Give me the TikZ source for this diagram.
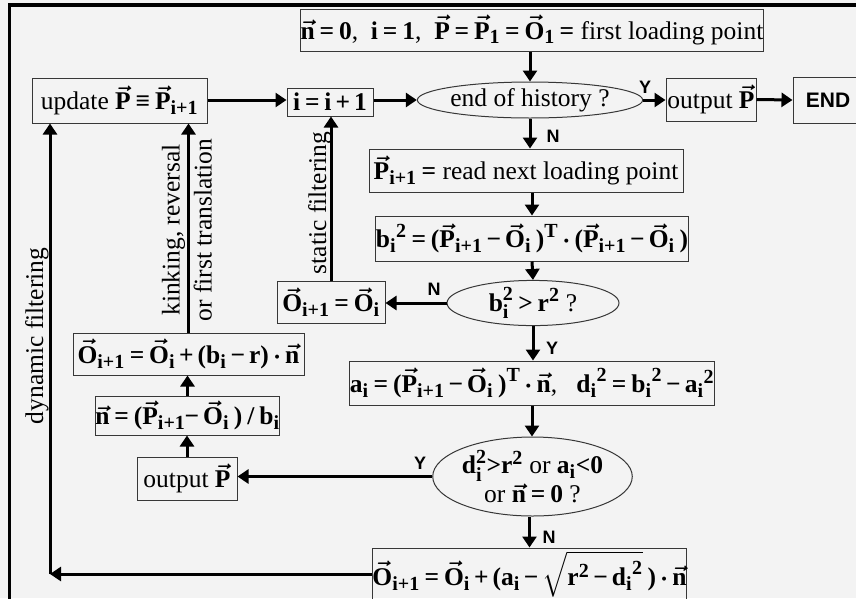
\RequirePackage{fix-cm}
\documentclass[tikz,border=0pt]{standalone}
\usepackage{amsmath}
\usepackage{fontspec}
\setmainfont{Liberation Serif}
\newfontfamily\arialfont{Liberation Sans}
\usepackage{tikz}
\usepackage{xcolor}
\usetikzlibrary{arrows.meta,shapes.geometric}
\definecolor{bggray}{RGB}{243,243,243}
\definecolor{boxgray}{RGB}{55,55,55}
\newcommand{\bs}[1]{\text{\bfseries #1}}
\newcommand{\bv}[1]{\vec{\bs{#1}}}
\newcommand{\sbs}[1]{_{\mbox{\fontsize{20}{20}\selectfont\bfseries #1}}}
\newcommand{\sps}[1]{^{\mbox{\fontsize{20}{20}\selectfont\bfseries #1}}}
\newcommand{\Eq}{\mathrel{\bs{=}}}
\newcommand{\Mi}{\mathbin{\bs{−}}}
\newcommand{\Pl}{\mathbin{\bs{+}}}
\newcommand{\Lp}{\bs{(}}
\newcommand{\Rp}{\bs{)}}
\newcommand{\tightmath}{\thickmuskip=3mu\medmuskip=2.5mu}

\begin{document}
\begin{tikzpicture}[x=1pt, y=-1pt, >={Triangle[length=11pt,width=14pt]},
    box/.style={draw=boxgray, line width=1pt, inner sep=0pt, font=\fontsize{25.5}{30}\selectfont\boldmath\tightmath},
    cond/.style={ellipse, draw=boxgray, line width=1pt, inner sep=0pt, align=center, font=\fontsize{25.5}{29}\selectfont\boldmath\tightmath},
    flow/.style={->, line width=3pt},
    yn/.style={font=\arialfont\bfseries\fontsize{18}{20}\selectfont},
    lbl/.style={rotate=90, align=center, font=\fontsize{25.5}{32}\selectfont}]
    \clip (0,0) rectangle (856,598);
    \fill[bggray] (0,0) rectangle (856,598);
    \draw[line width=3.5pt] (9.5,620) -- (9.5,5) -- (880,5);
    % main column
    \node[box, minimum width=463, minimum height=42] (init) at (532,30)
        {$\bv{n}\Eq\bs{0}$,\ \ $\bs{i}\Eq\bs{1}$,\ \ $\bv{P}\Eq\bv{P}\sbs{1}\Eq\bv{O}\sbs{1}\Eq$ first loading point};
    \node[cond, minimum width=190, minimum height=36] (hist) at (530,100) {end of history ?};
    \node[box, minimum width=90, minimum height=43] (outa) at (711,99.5) {output $\bv{P}$};
    \node[box, minimum width=70, minimum height=46, font=\arialfont\bfseries\fontsize{21}{24}\selectfont] (end) at (828,100) {END};
    \node[box, minimum width=314, minimum height=43] (read) at (526,170.5)
        {$\bv{P}\sbs{i+1}\Eq$ read next loading point};
    \node[box, minimum width=310, minimum height=45] (bsq) at (532,238.5)
        {${\bs{b}\sbs{i}}\sps{2}\Eq\Lp\bv{P}\sbs{i+1}\Mi\bv{O}\sbs{i}\,\Rp\sps{T}\cdot\Lp\bv{P}\sbs{i+1}\Mi\bv{O}\sbs{i}\,\Rp$};
    \node[cond, minimum width=172, minimum height=38] (bcmp) at (533,303)
        {$\bs{b}\sbs{i}\sps{2}\mathrel{\bs{>}}\bs{r}\sps{2}$ ?};
    \node[box, minimum width=358, minimum height=44] (adist) at (532,383)
        {$\bs{a}\sbs{i}\Eq\Lp\bv{P}\sbs{i+1}\Mi\bv{O}\sbs{i}\,\Rp\sps{T}\cdot\bv{n}$,\ \ \ ${\bs{d}\sbs{i}}\sps{2}\Eq{\bs{b}\sbs{i}}\sps{2}\Mi{\bs{a}\sbs{i}}\sps{2}$};
    \node[cond, minimum width=199, minimum height=79] (dcmp) at (532.5,476.5)
        {$\bs{d}\sbs{i}\sps{2}\bs{>}\bs{r}\sps{2}$ or $\bs{a}\sbs{i}\bs{<}\bs{0}$\\or $\bv{n}\Eq\bs{0}$ ?};
    \node[box, minimum width=307, minimum height=52] (fin) at (529.5,574)
        {$\bv{O}\sbs{i+1}\Eq\bv{O}\sbs{i}\Pl\Lp\bs{a}\sbs{i}\Mi\sqrt{\bs{r}\sps{2}\Mi{\bs{d}\sbs{i}}\sps{2}}\,\Rp\cdot\bv{n}$};
    % left side
    \node[box, minimum width=175, minimum height=45] (upd) at (119.5,100.5)
        {update $\bv{P}\mathrel{\bs{≡}}\bv{P}\sbs{i+1}$};
    \node[box, minimum width=86, minimum height=28] (inc) at (330,102) {$\bs{i}\Eq\bs{i}\Pl\bs{1}$};
    \node[box, minimum width=108, minimum height=42] (keep) at (331,302) {$\bv{O}\sbs{i+1}\Eq\bv{O}\sbs{i}$};
    \node[box, minimum width=231, minimum height=42] (kink) at (188.5,354)
        {$\bv{O}\sbs{i+1}\Eq\bv{O}\sbs{i}\Pl\Lp\bs{b}\sbs{i}\Mi\bs{r}\Rp\cdot\bv{n}$};
    \node[box, minimum width=177, minimum height=39] (dir) at (187.5,415.5)
        {$\bv{n}\Eq\Lp\bv{P}\sbs{i+1}\!\Mi\bv{O}\sbs{i}\,\Rp\,\bs{/}\,\bs{b}\sbs{i}$};
    \node[box, minimum width=100, minimum height=43] (outb) at (187,478.5) {output $\bv{P}$};
    \coordinate (corner) at (50,574);
    % connectors
    \draw[flow] (init.south -| hist.south) -- (hist.north);
    \draw[flow] (hist.east) -- (outa.west |- hist.east);
    \draw[flow] (outa.east) -- (end.west);
    \draw[flow] (hist.south) -- (hist.south |- read.north);
    \draw[flow] (bsq.north |- read.south) -- (bsq.north);
    \draw[flow] (bsq.south) -- (bcmp.north);
    \draw[flow] (bcmp.west) -- (keep.east |- bcmp.west);
    \draw[flow] (bcmp.south) -- (bcmp.south |- adist.north);
    \draw[flow] (adist.south) -- (adist.south |- dcmp.north);
    \draw[flow] (dcmp.west) -- (outb.east |- dcmp.west);
    \draw[flow] (dcmp.south -| fin.north) -- (fin.north);
    \draw[flow] (fin.west) -- (corner);
    \draw[flow] (corner) -- (corner |- upd.south);
    \draw[flow] (outb.north) -- (outb.north |- dir.south);
    \draw[flow] (dir.north) -- (dir.north |- kink.south);
    \draw[flow] (kink.north) -- (kink.north |- upd.south);
    \draw[flow] (keep.north) -- (keep.north |- inc.south);
    \draw[flow] (upd.east |- hist.west) -- (inc.west |- hist.west);
    \draw[flow] (inc.east |- hist.west) -- (hist.west);
    % branch labels
    \node[yn] (y1) at (645,87) {Y};
    \node[yn] (n1) at (553,136) {N};
    \node[yn] (n2) at (434,289) {N};
    \node[yn] (y2) at (552,348) {Y};
    \node[yn] (y3) at (420,463) {Y};
    \node[yn] (n3) at (549,537) {N};
    \node[lbl] (dynlbl) at (37,336) {dynamic filtering};
    \node[lbl] (statlbl) at (320,203) {static filtering};
    \node[lbl] (kinklbl) at (187,230) {kinking, reversal\\or first translation};
\end{tikzpicture}
\end{document}
